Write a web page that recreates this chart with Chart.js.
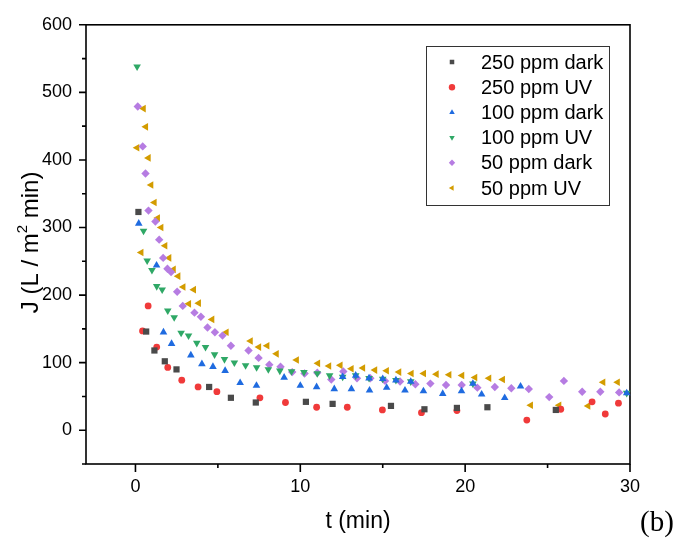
<!DOCTYPE html>
<html>
<head>
<meta charset="utf-8">
<script src="https://cdn.jsdelivr.net/npm/chart.js@4.4.1/dist/chart.umd.min.js"></script>
<style>
  html, body { margin: 0; padding: 0; background: #fff; }
  #wrap { position: relative; width: 684px; height: 549px; }
  #tag { position: absolute; left: 640px; top: 505px; font: 29px "Liberation Serif", "Times New Roman", serif; color: #000; }
</style>
</head>
<body>
<div id="wrap">
  <canvas id="c" width="684" height="549"></canvas>
  <div id="tag">(b)</div>
</div>
<script>
// Flux J (L / m² min) against filtration time t (min)
const t250dark = [0.18, 0.65, 1.15, 1.78, 2.49, 4.47, 5.79, 7.3, 10.34, 11.96, 15.5, 17.53, 19.5, 21.35, 25.5];
const J250dark = [323, 146, 118, 102, 90, 64, 48, 41, 42, 39, 36, 31, 33, 34, 30];

const t250uv = [0.43, 0.77, 1.29, 1.96, 2.81, 3.8, 4.94, 7.55, 9.1, 10.99, 12.85, 14.98, 17.35, 19.5, 23.74, 25.8, 27.7, 28.5, 29.3];
const J250uv = [147, 184, 123, 93, 74, 64, 57, 48, 41, 34, 34, 30, 26, 29, 15, 31, 42, 24, 40];

const t100dark = [0.2, 1.28, 1.7, 2.19, 3.36, 4.03, 4.7, 5.44, 6.35, 7.34, 9.02, 10.0, 10.99, 12.06, 12.57, 13.1, 13.36, 14.17, 14.2, 15.0, 15.24, 15.8, 16.35, 16.7, 17.47, 18.64, 19.78, 20.47, 21.0, 22.4, 23.36, 29.8];
const J100dark = [306, 244, 145, 128, 111, 98, 94, 88, 70, 66, 78, 66, 64, 61, 79, 61, 81, 77, 59, 76, 63, 74, 59, 72, 58, 54, 58, 69, 53, 48, 65, 55];

const t100uv = [0.1, 0.49, 0.71, 1.0, 1.29, 1.62, 1.96, 2.35, 2.77, 3.22, 3.72, 4.25, 4.8, 5.4, 6.0, 6.68, 7.35, 8.06, 8.76, 9.47, 10.22, 11.03, 11.78, 12.57, 13.36, 14.17, 15.0, 15.8, 16.7, 20.47, 29.8];
const J100uv = [538, 295, 251, 237, 213, 208, 177, 167, 144, 140, 129, 123, 112, 105, 100, 96, 93, 90, 88, 87, 86, 84, 81, 79, 81, 77, 76, 74, 72, 69, 55];

const t50dark = [0.14, 0.44, 0.61, 0.79, 1.21, 1.44, 1.68, 1.94, 2.16, 2.53, 2.87, 3.58, 3.97, 4.37, 4.82, 5.28, 5.79, 6.86, 7.47, 8.12, 8.8, 9.51, 10.26, 11.03, 11.88, 12.61, 13.44, 14.25, 15.14, 16.05, 16.98, 17.89, 18.84, 19.79, 20.74, 21.8, 22.8, 23.86, 25.1, 25.99, 27.1, 28.2, 29.34];
const J50dark = [479, 420, 380, 325, 309, 282, 255, 239, 234, 205, 184, 174, 168, 152, 145, 140, 125, 118, 107, 97, 94, 86, 84, 85, 75, 87, 77, 77, 73, 72, 68, 69, 67, 67, 63, 64, 62, 61, 49, 73, 57, 57, 56];

const t50uv = [0.1, 0.35, 0.49, 0.63, 0.79, 0.95, 1.15, 1.35, 1.56, 1.8, 2.04, 2.31, 2.59, 2.9, 3.24, 3.54, 3.84, 4.65, 5.52, 6.98, 7.49, 7.99, 8.56, 9.78, 11.07, 11.74, 12.43, 13.1, 13.8, 14.53, 15.24, 15.99, 16.74, 17.49, 18.26, 19.03, 19.81, 20.6, 21.45, 22.28, 23.98, 25.7, 27.46, 28.37, 29.25];
const J50uv = [418, 263, 476, 449, 403, 363, 337, 314, 300, 273, 255, 238, 228, 212, 187, 208, 188, 164, 145, 132, 123, 125, 113, 104, 99, 95, 96, 91, 92, 89, 88, 86, 84, 84, 83, 82, 81, 78, 77, 75, 37, 37, 36, 71, 71];

const seriesLabels = ['250 ppm dark', '250 ppm UV', '100 ppm dark', '100 ppm UV', '50 ppm dark', '50 ppm UV'];

const xTicks = { min: -3, max: 30, step: 5, labelEvery: 10 };
const yTicks = { min: -50, max: 600, step: 50, labelEvery: 100 };

const pts = (ts, js) => ts.map((t, i) => ({ x: t, y: js[i] }));

const styles = [
  { color: '#4a4a4a', pointStyle: 'rect', rotation: 0, radius: 4.4 },
  { color: '#f03a3a', pointStyle: 'circle', rotation: 0, radius: 3.4 },
  { color: '#1f6be0', pointStyle: 'triangle', rotation: 0, radius: 4.4 },
  { color: '#2fa866', pointStyle: 'triangle', rotation: 180, radius: 4.4 },
  { color: '#b67ce2', pointStyle: 'rectRot', rotation: 0, radius: 4.2 },
  { color: '#d39c00', pointStyle: 'triangle', rotation: 270, radius: 4.4 }
];

const seriesData = [
  pts(t250dark, J250dark), pts(t250uv, J250uv),
  pts(t100dark, J100dark), pts(t100uv, J100uv),
  pts(t50dark, J50dark), pts(t50uv, J50uv)
];

const datasets = seriesData.map((d, i) => ({
  label: seriesLabels[i],
  data: d,
  showLine: false,
  clip: false,
  pointStyle: styles[i].pointStyle,
  rotation: styles[i].rotation,
  pointRadius: styles[i].radius,
  pointHoverRadius: styles[i].radius,
  pointBorderWidth: 0,
  backgroundColor: styles[i].color,
  borderColor: styles[i].color
}));

const SANS = '"Liberation Sans", Arial, Helvetica, sans-serif';

// Frame, outward tick marks, axis titles and the boxed legend
const decorations = {
  id: 'decorations',
  beforeDatasetsDraw(chart) {
    const { ctx, chartArea: a, scales: { x, y } } = chart;
    ctx.save();
    ctx.strokeStyle = '#000';
    ctx.lineWidth = 1.6;
    ctx.strokeRect(a.left, a.top, a.right - a.left, a.bottom - a.top);
    ctx.beginPath();
    y.ticks.forEach(tk => {
      const v = tk.value;
      if (v % yTicks.step !== 0) return;
      const len = v % yTicks.labelEvery === 0 ? 7 : 4;
      const p = y.getPixelForValue(v);
      ctx.moveTo(a.left, p);
      ctx.lineTo(a.left - len, p);
    });
    x.ticks.forEach(tk => {
      const v = tk.value;
      if (v % xTicks.step !== 0) return;
      const len = v % xTicks.labelEvery === 0 ? 8 : 4;
      const p = x.getPixelForValue(v);
      ctx.moveTo(p, a.bottom);
      ctx.lineTo(p, a.bottom + len);
    });
    ctx.stroke();
    ctx.restore();
  },
  afterDraw(chart) {
    const { ctx, chartArea: a } = chart;
    ctx.save();
    ctx.fillStyle = '#000';

    // x title
    ctx.font = '23px ' + SANS;
    ctx.textAlign = 'center';
    ctx.textBaseline = 'middle';
    ctx.fillText('t (min)', (a.left + a.right) / 2, 522);

    // y title with superscript
    const big = '24px ' + SANS, small = '15px ' + SANS;
    const parts = [['J (L / m', big, 0], ['2', small, -8], [' min)', big, 0]];
    let total = 0;
    parts.forEach(p => { ctx.font = p[1]; total += ctx.measureText(p[0]).width; });
    ctx.translate(31, (a.top + a.bottom) / 2 - 2);
    ctx.rotate(-Math.PI / 2);
    ctx.textAlign = 'left';
    let cx = -total / 2;
    parts.forEach(p => {
      ctx.font = p[1];
      ctx.fillText(p[0], cx, p[2]);
      cx += ctx.measureText(p[0]).width;
    });
    ctx.setTransform(1, 0, 0, 1, 0, 0);

    // legend
    const box = { x: 426, y: 46, w: 183, h: 159 };
    ctx.strokeStyle = '#333';
    ctx.lineWidth = 1;
    ctx.strokeRect(box.x + 0.5, box.y + 0.5, box.w, box.h);
    ctx.font = '20px ' + SANS;
    ctx.textAlign = 'left';
    ctx.textBaseline = 'middle';
    chart.data.datasets.forEach((ds, i) => {
      const cy = 62 + i * 25.2;
      ctx.fillStyle = ds.backgroundColor;
      Chart.helpers.drawPoint(ctx, {
        pointStyle: ds.pointStyle, rotation: ds.rotation,
        radius: 3.2, borderWidth: 0
      }, 452, cy);
      ctx.fillStyle = '#000';
      ctx.fillText(ds.label, 481, cy + 1);
    });
    ctx.restore();
  }
};

new Chart(document.getElementById('c'), {
  type: 'scatter',
  data: { datasets },
  options: {
    responsive: false,
    devicePixelRatio: 1,
    animation: false,
    events: [],
    layout: { padding: { left: 0, top: 24, right: 54, bottom: 0 } },
    plugins: { legend: { display: false }, tooltip: { enabled: false } },
    scales: {
      x: {
        type: 'linear',
        min: xTicks.min, max: xTicks.max,
        grid: { display: false, drawTicks: false },
        border: { display: false },
        afterFit: s => { s.height = 85; },
        ticks: {
          stepSize: xTicks.step, autoSkip: false, maxRotation: 0, padding: 12,
          color: '#000', font: { family: SANS, size: 18 },
          callback: v => (v % xTicks.labelEvery === 0 ? v : '')
        }
      },
      y: {
        type: 'linear',
        min: yTicks.min, max: yTicks.max,
        grid: { display: false, drawTicks: false },
        border: { display: false },
        afterFit: s => { s.width = 86; },
        ticks: {
          stepSize: yTicks.step, autoSkip: false, padding: 14,
          color: '#000', font: { family: SANS, size: 18 },
          callback: v => (v % yTicks.labelEvery === 0 ? v : '')
        }
      }
    }
  },
  plugins: [decorations]
});
</script>
</body>
</html>
